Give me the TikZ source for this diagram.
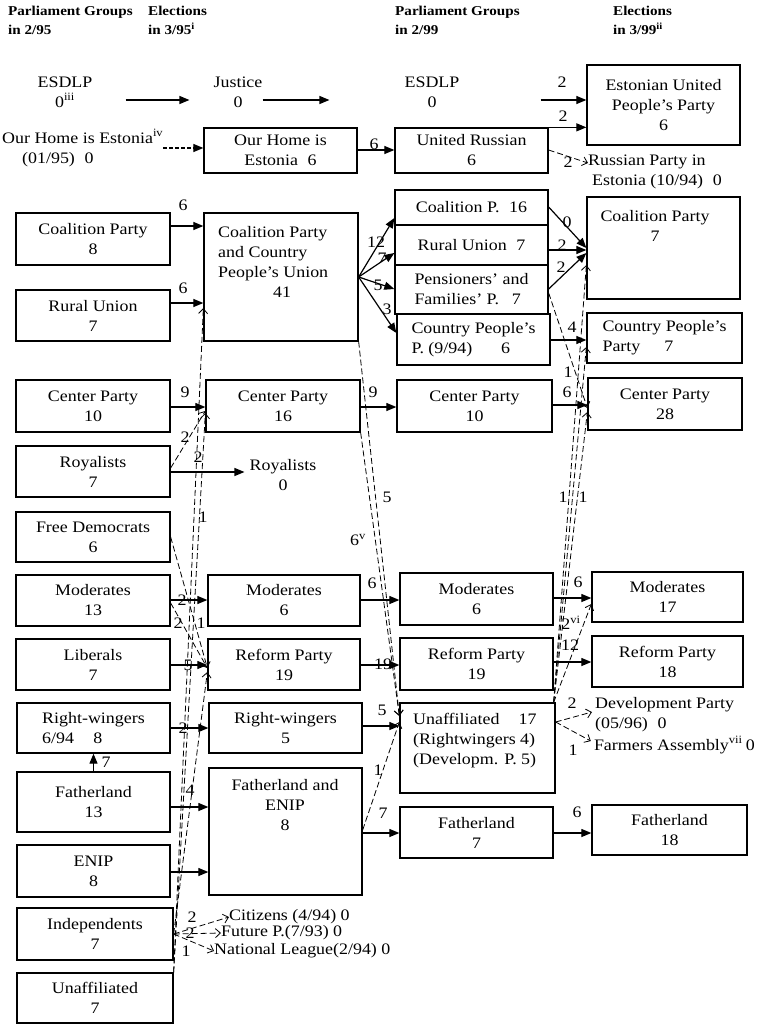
\documentclass[tikz,border=0pt]{standalone}
\usepackage{fontspec}
\setmainfont{Liberation Serif}[FakeStretch=1.12]
\usetikzlibrary{arrows.meta}
\newcommand\bodyfont{\fontsize{16}{20}\selectfont}
\newcommand\hdrfont{\fontsize{13.5}{19}\selectfont\bfseries}
\newcommand\bx[7][]{\node[box,#1,minimum width={#5-#3},minimum height={#6-#4}] (#2) at ({(#3+#5)/2},{(#4+#6)/2}) {#7};}
\begin{document}
\begin{tikzpicture}[x=1pt,y=-1pt,
  box/.style={draw,line width=1.3pt,inner sep=0pt,align=center,font=\bodyfont},
  lbl/.style={inner sep=0pt,font=\bodyfont},
  hdr/.style={inner sep=0pt,font=\hdrfont,align=left,anchor=north west},
  sarr/.style={-{Triangle[length=10pt,width=8pt]},line width=1.2pt},
  darr/.style={-{Straight Barb[length=5pt,width=9pt]},line width=0.8pt,dash pattern=on 6pt off 3pt}]
\useasboundingbox (0,0) rectangle (757,1027);
% headers
\node[hdr] (h1) at (8,6) {Parliament Groups\\in 2/95};
\node[hdr] (h2) at (148,6) {Elections\\in 3/95\textsuperscript{i}};
\node[hdr] (h3) at (395,6) {Parliament Groups\\in 2/99};
\node[hdr] (h4) at (613,6) {Elections\\in 3/99\textsuperscript{ii}};
% 2/95 column
\bx{cp8}{16}{213}{170}{265}{Coalition Party\\8}
\bx{ru7}{16}{290}{170}{341}{Rural Union\\7}
\bx{ce10}{16}{380}{170}{432}{Center Party\\10}
\bx{ro7}{16}{446}{170}{497}{Royalists\\7}
\bx{fd6}{16}{512}{170}{562}{Free Democrats\\6}
\bx{mo13}{16}{575}{170}{626}{Moderates\\13}
\bx{li7}{16}{639}{170}{690}{Liberals\\7}
\bx[align=left]{rw8}{17}{703}{170}{753}{Right-wingers\\6/94\hspace{1.2em}8}
\bx{fa13}{17}{772}{170}{832}{Fatherland\\13}
\bx{en8}{17}{845}{170}{897}{ENIP\\8}
\bx{in7}{17}{908}{173}{960}{Independents\\7}
\bx{un7}{17}{973}{173}{1023}{Unaffiliated\\7}
% 3/95 column
\bx{oh6}{204}{128}{357}{173}{Our Home is\\Estonia\hspace{0.6em}6}
\bx{cpu41}{204}{213}{358}{341}{}
\node[lbl,align=left,anchor=north west] (cpu41t) at (218,226) {Coalition Party\\and Country\\People’s Union\\\hspace*{55pt}41};
\bx{ce16}{206}{380}{360}{432}{Center Party\\16}
\bx{mo6}{208}{575}{360}{626}{Moderates\\6}
\bx{rf19}{208}{639}{360}{690}{Reform Party\\19}
\bx{rw5}{209}{703}{362}{753}{Right-wingers\\5}
\bx{fe8}{209}{768}{362}{895}{}
\node[lbl,align=center,anchor=north] (fe8t) at (285,779) {Fatherland and\\ENIP\\8};
% 2/99 column
\bx{ur6}{395}{128}{548}{173}{United Russian\\6}
\bx[align=left]{cp16}{395}{190}{548}{225}{Coalition P.\hspace{0.6em}16}
\bx[align=left]{ru7b}{395}{225}{548}{265}{Rural Union\hspace{0.6em}7}
\bx[align=left]{pe7}{395}{265}{548}{314}{Pensioners’ and\\Families’ P.\hspace{0.8em}7}
\bx[align=left]{cpp6}{397}{314}{550}{365}{Country People’s\\P. (9/94)\hspace{1.8em}6}
\bx{ce10b}{397}{380}{552}{432}{Center Party\\10}
\bx{mo6b}{400}{573}{553}{625}{Moderates\\6}
\bx{rf19b}{400}{638}{553}{690}{Reform Party\\19}
\bx{un17}{400}{703}{555}{793}{}
\node[lbl,align=left,anchor=north west] (un17t) at (413,713) {Unaffiliated\hspace{1.2em}17\\(Rightwingers 4)\\(Developm. P. 5)};
\bx{fa7}{400}{807}{553}{858}{Fatherland\\7}
% 3/99 column
\bx{eu6}{587}{65}{740}{145}{Estonian United\\People’s Party\\6}
\bx{cp7}{587}{197}{740}{299}{}
\node[lbl,align=center,anchor=north] (cp7t) at (655,210) {Coalition Party\\7};
\bx[align=left]{cpp7}{587}{313}{742}{363}{Country People’s\\Party\hspace{1.5em}7}
\bx{ce28}{588}{378}{742}{430}{Center Party\\28}
\bx{mo17}{592}{572}{743}{622}{Moderates\\17}
\bx{rf18}{592}{636}{743}{687}{Reform Party\\18}
\bx{fa18}{592}{805}{747}{855}{Fatherland\\18}
% free texts
\node[lbl,align=center] (esdlp1) at (65,92) {ESDLP\\0\textsuperscript{iii}};
\node[lbl,align=center] (just) at (238,92) {Justice\\0};
\node[lbl,align=center] (esdlp2) at (432,92) {ESDLP\\0};
\node[lbl,align=left,anchor=west] (ohe) at (2,148) {Our Home is Estonia\textsuperscript{iv}\\\hspace*{20pt}(01/95)\hspace{0.6em}0};
\node[lbl,align=center] (roy0) at (283,475) {Royalists\\0};
\node[lbl,align=left,anchor=west] (rpe) at (588,172) {Russian Party in\\\hspace*{4pt}Estonia (10/94)\hspace{0.6em}0};
\node[lbl,anchor=west] (cit) at (229,917) {Citizens (4/94) 0};
\node[lbl,anchor=west] (fut) at (221,933) {Future P.(7/93) 0};
\node[lbl,anchor=west] (nat) at (214,951) {National League(2/94) 0};
\node[lbl,align=left,anchor=west] (dev) at (595,715) {Development Party\\(05/96)\hspace{0.6em}0};
\node[lbl,anchor=east] (farm) at (755,745) {Farmers Assembly\textsuperscript{vii}\hspace{0.2em}0};
% top row
\draw[sarr] ([shift={(33pt,-8pt)}]esdlp1.east) -- ([shift={(-24pt,-8pt)}]just.west);
\draw[sarr] ([shift={(0pt,-8pt)}]just.east) -- ([shift={(-75pt,-8pt)}]esdlp2.west);
\draw[sarr] ([shift={(81pt,-8pt)}]esdlp2.east) -- (eu6.west |- 0,100);
\node[lbl] (n1) at (562,82) {2};
\draw[sarr] (ur6.north east) -- (eu6.west |- ur6.north east);
\node[lbl] (n2) at (563,116) {2};
% row 2
\draw[sarr,dash pattern=on 4pt off 2pt] (ohe.east) -- (oh6.west |- ohe.east);
\draw[sarr] (oh6.east |- 0,150) -- (ur6.west |- 0,150);
\node[lbl] (n3) at (374,144) {6};
\draw[darr] (ur6.east |- 0,150) -- (rpe.west |- 0,163);
\node[lbl] (n4) at (568,162) {2};
% 2/95 -> 3/95
\draw[sarr] (cp8.east |- 0,226) -- (cpu41.west |- 0,226);
\node[lbl] (n5) at (183,205) {6};
\draw[sarr] (ru7.east |- 0,303) -- (cpu41.west |- 0,303);
\node[lbl] (n6) at (183,288) {6};
\draw[sarr] (ce10.east |- 0,407) -- (ce16.west |- 0,407);
\node[lbl] (n7) at (185,392) {9};
\draw[sarr] (ro7.east |- 0,472) -- ([xshift=-5pt]roy0.west |- 0,472);
\draw[darr] (ro7.east |- 0,468) -- (ce16.west |- 0,411);
\node[lbl] (n8) at (185,437) {2};
\draw[sarr] (mo13.east |- 0,600) -- (mo6.west |- 0,600);
\node[lbl] (n9) at (182,600) {2};
\draw[darr] (mo13.east |- 0,603) -- (rf19.west |- 0,668);
\node[lbl] (n10) at (178,623) {2};
\draw[darr] (fd6.east |- 0,537) -- (rf19.west |- 0,668);
\node[lbl] (n11) at (201,623) {1};
\draw[sarr] (li7.east |- 0,665) -- (rf19.west |- 0,665);
\node[lbl] (n12) at (188,665) {5};
\draw[sarr] (rw8.east |- 0,728) -- (rw5.west |- 0,728);
\node[lbl] (n13) at (183,728) {2};
\draw[sarr] (fa13.north) -- (rw8.south);
\node[lbl] (n14) at (106,762) {7};
\draw[sarr] (fa13.east |- 0,807) -- (fe8.west |- 0,807);
\node[lbl] (n15) at (190,790) {4};
\draw[sarr] (en8.east |- 0,872) -- (fe8.west |- 0,872);
\draw[darr] (in7.east) -- (cit.west);
\node[lbl] (n16) at (192,917) {2};
\draw[darr] (in7.east) -- (fut.west);
\node[lbl] (n17) at (190,933) {2};
\draw[darr] (in7.east) -- (nat.west);
\node[lbl] (n18) at (186,951) {1};
\draw[darr] (un7.north east) -- (cpu41.west |- 0,308);
\node[lbl] (n19) at (198,457) {2};
\draw[darr] (un7.north east) -- (ce16.west |- 0,413);
\node[lbl] (n20) at (203,517) {1};
\draw[darr] (in7.east) -- (rf19.west |- 0,672);
% 3/95 -> 2/99
\draw[sarr] (cpu41.east |- 0,277) -- (cp16.west |- 0,218);
\node[lbl] (n21) at (376,242) {12};
\draw[sarr] (cpu41.east |- 0,277) -- (ru7b.west |- 0,253);
\node[lbl] (n22) at (382,258) {7};
\draw[sarr] (cpu41.east |- 0,277) -- (pe7.west |- 0,289);
\node[lbl] (n23) at (378,285) {5};
\draw[sarr] (cpu41.east |- 0,277) -- (cpp6.west |- 0,333);
\node[lbl] (n24) at (387,309) {3};
\draw[sarr] (ce16.east |- 0,407) -- (ce10b.west |- 0,407);
\node[lbl] (n25) at (373,392) {9};
\draw[sarr] (mo6.east |- 0,600) -- (mo6b.west |- 0,600);
\node[lbl] (n26) at (372,583) {6};
\draw[sarr] (rf19.east |- 0,665) -- (rf19b.west |- 0,665);
\node[lbl] (n27) at (383,664) {19};
\draw[sarr] (rw5.east |- 0,726) -- (un17.west |- 0,726);
\node[lbl] (n28) at (382,710) {5};
\draw[sarr] (fe8.east |- 0,833) -- (fa7.west |- 0,833);
\node[lbl] (n29) at (383,813) {7};
\draw[darr] (fe8.east |- 0,830) -- (un17.west |- 0,722);
\node[lbl] (n30) at (378,770) {1};
\draw[darr] (cpu41.south east) -- (un17.west |- 0,716);
\node[lbl] (n31) at (358,540) {6\textsuperscript{v}};
\draw[darr] (ce16.south east) -- (un17.west |- 0,716);
\node[lbl] (n32) at (387,497) {5};
% 2/99 -> 3/99
\draw[sarr] (cp16.east |- 0,207) -- (cp7.west |- 0,248);
\node[lbl] (n33) at (567,222) {0};
\draw[sarr] (ru7b.east |- 0,250) -- (cp7.west |- 0,250);
\node[lbl] (n34) at (562,245) {2};
\draw[sarr] (pe7.east |- 0,289) -- (cp7.west |- 0,253);
\node[lbl] (n35) at (561,267) {2};
\draw[sarr] (cpp6.east |- 0,340) -- (cpp7.west |- 0,340);
\node[lbl] (n36) at (572,327) {4};
\draw[sarr] (ce10b.east |- 0,405) -- (ce28.west |- 0,405);
\node[lbl] (n37) at (567,392) {6};
\draw[sarr] (mo6b.east |- 0,598) -- (mo17.west |- 0,598);
\node[lbl] (n38) at (578,582) {6};
\draw[sarr] (rf19b.east |- 0,662) -- (rf18.west |- 0,662);
\node[lbl] (n39) at (570,645) {12};
\draw[sarr] (fa7.east |- 0,833) -- (fa18.west |- 0,833);
\node[lbl] (n40) at (577,812) {6};
\draw[darr] (un17.east |- 0,722) -- ([shift={(-3pt,3pt)}]dev.west);
\node[lbl] (n41) at (572,703) {2};
\draw[darr] (un17.east |- 0,722) -- ([xshift=-3pt]farm.west |- 0,741);
\node[lbl] (n42) at (573,750) {1};
\draw[darr] ([xshift=-2pt]un17.north east) -- (cp7.west |- 0,265);
\draw[darr] ([xshift=-2pt]un17.north east) -- (cpp7.west |- 0,347);
\draw[darr] ([xshift=-2pt]un17.north east) -- (ce28.west |- 0,412);
\draw[darr] ([xshift=-2pt]un17.north east) -- (mo17.west |- 0,604);
\node[lbl] (n43) at (571,623) {2\textsuperscript{vi}};
\node[lbl] (n44) at (563,497) {1};
\node[lbl] (n45) at (583,497) {1};
\draw[darr] (pe7.east |- 0,293) -- (ce28.west |- 0,408);
\node[lbl] (n46) at (568,372) {1};
\end{tikzpicture}
\end{document}
